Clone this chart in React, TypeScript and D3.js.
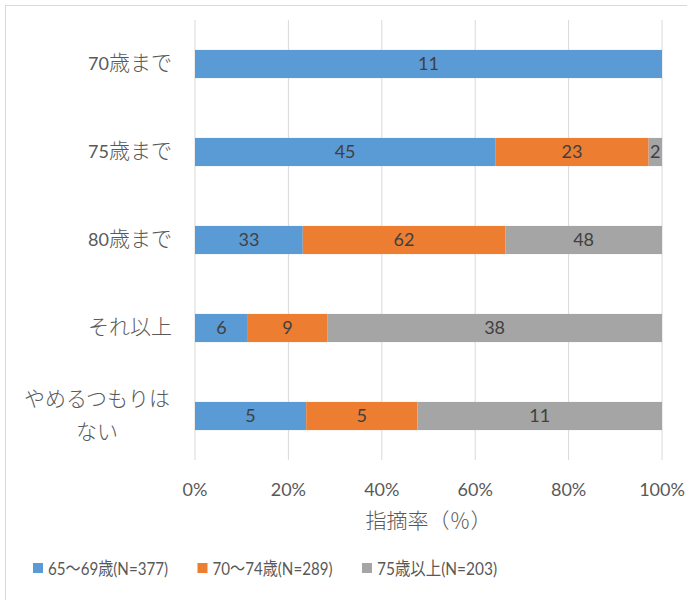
import * as d3 from "d3";

const categories = ["70歳まで", "75歳まで", "80歳まで", "それ以上", "やめるつもりはない"];
const seriesNames = ["65～69歳(N=377)", "70～74歳(N=289)", "75歳以上(N=203)"];
const age65 = [11, 45, 33, 6, 5];
const age70 = [0, 23, 62, 9, 5];
const age75 = [0, 2, 48, 38, 11];
const colors = ["#5B9BD5", "#ED7D31", "#A5A5A5"];
const xTickValues = [0, 0.2, 0.4, 0.6, 0.8, 1];

const width = 687;
const height = 600;
const margin = { top: 20, right: 25, bottom: 140, left: 195 };
const latin = "Lato, 'Noto Sans CJK JP', sans-serif";
const cjk = "'Noto Sans CJK JP', sans-serif";

// splits text into latin / cjk runs so each can get its own size
function Mixed({ text, x, y, anchor = "start", latinSize, cjkSize, fill }: {
  text: string; x: number; y: number; anchor?: string;
  latinSize: number; cjkSize: number; fill: string;
}) {
  const runs = text.match(/[\x00-\x7F]+|[^\x00-\x7F]+/g) || [];
  return (
    <text x={x} y={y + latinSize * 0.36} textAnchor={anchor} fill={fill}>
      {runs.map((r, i) => {
        const isLatin = /^[\x00-\x7F]+$/.test(r);
        return (
          <tspan key={i} fontFamily={isLatin ? latin : cjk}
            fontSize={isLatin ? latinSize : cjkSize}
            fontWeight={isLatin ? 400 : 300}>
            {r}
          </tspan>
        );
      })}
    </text>
  );
}

export default function App() {
  const rows = categories.map((c, i) => ({
    cat: c,
    vals: [age65[i], age70[i], age75[i]],
  }));

  const xScale = d3.scaleLinear()
    .domain([0, 1])
    .range([margin.left, width - margin.right]);

  const yScale = d3.scaleBand()
    .domain(categories)
    .range([margin.top, height - margin.bottom])
    .paddingInner(0.68)
    .paddingOuter(0.34);

  const bottom = height - margin.bottom;

  return (
    <svg width={width} height={height} style={{ position: "absolute", left: 0, top: 0 }}>
      <rect x={0} y={0} width={width} height={height} fill="#fff" />
      <rect x={5.5} y={5.5} width={width + 10} height={height + 10} fill="none" stroke="#d9d9d9" />

      {/* grid */}
      {xTickValues.map(t => (
        <line key={t} x1={xScale(t)} x2={xScale(t)} y1={margin.top} y2={bottom}
          stroke="#d9d9d9" strokeWidth={1} />
      ))}

      {/* bars */}
      {rows.map(r => {
        const total = d3.sum(r.vals);
        let acc = 0;
        return r.vals.map((v, j) => {
          const x0 = xScale(acc / total);
          acc += v;
          const x1 = xScale(acc / total);
          if (v === 0) return null;
          const y = yScale(r.cat)!;
          return (
            <g key={r.cat + j}>
              <rect x={x0} y={y} width={x1 - x0} height={yScale.bandwidth()} fill={colors[j]} />
              <text x={(x0 + x1) / 2} y={y + yScale.bandwidth() / 2 + 18 * 0.36}
                textAnchor="middle" fontSize={18} fill="#404040" fontFamily={latin}>
                {v}
              </text>
            </g>
          );
        });
      })}

      {/* category labels */}
      {rows.map(r => {
        const yc = yScale(r.cat)! + yScale.bandwidth() / 2;
        if (r.cat === "やめるつもりはない") {
          return (
            <g key={r.cat}>
              <Mixed text="やめるつもりは" x={97} y={yc - 16} anchor="middle"
                latinSize={18} cjkSize={21} fill="#595959" />
              <Mixed text="ない" x={97} y={yc + 17} anchor="middle"
                latinSize={18} cjkSize={21} fill="#595959" />
            </g>
          );
        }
        return (
          <Mixed key={r.cat} text={r.cat} x={172} y={yc} anchor="end"
            latinSize={18} cjkSize={21} fill="#595959" />
        );
      })}

      {/* x tick labels */}
      {xTickValues.map(t => (
        <text key={t} x={xScale(t)} y={490 + 18 * 0.36} textAnchor="middle"
          fontSize={18} fill="#595959" fontFamily={latin}>
          {d3.format(".0%")(t)}
        </text>
      ))}
      <Mixed text="指摘率（％）" x={(xScale(0) + xScale(1)) / 2} y={522} anchor="middle"
        latinSize={18} cjkSize={21} fill="#595959" />

      {/* legend */}
      {seriesNames.map((s, i) => {
        const lx = 33 + i * 164.5;
        return (
          <g key={s}>
            <rect x={lx} y={563} width={10} height={10} fill={colors[i]} />
            <text x={lx + 15} y={568 + 6.5} fontSize={18} fontFamily={latin}
              fill="#595959" textLength={120} lengthAdjust="spacingAndGlyphs">
              {s}
            </text>
          </g>
        );
      })}
    </svg>
  );
}
